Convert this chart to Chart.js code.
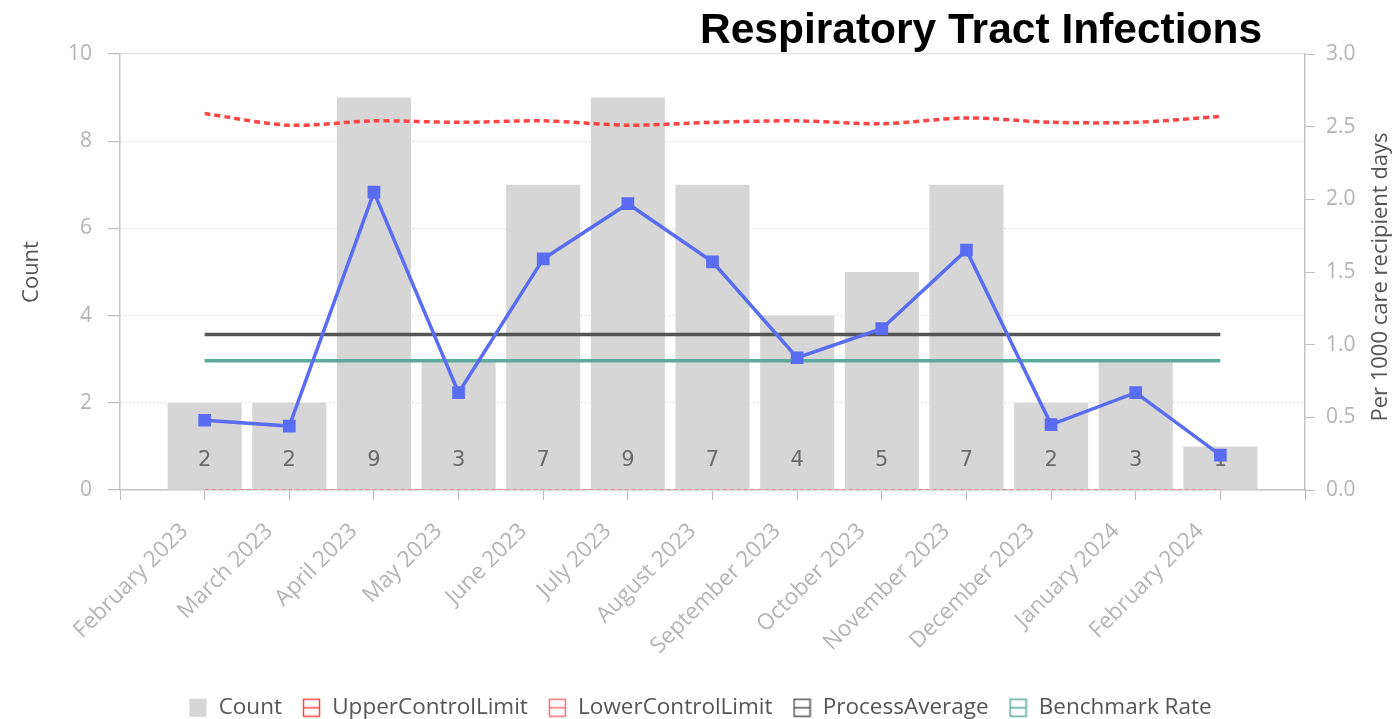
<!DOCTYPE html>
<html>
<head>
<meta charset="utf-8">
<script src="https://cdn.jsdelivr.net/npm/chart.js@4.4.0/dist/chart.umd.min.js"></script>
<style>
  body { margin: 0; background: #fff; overflow: hidden; }
  #wrap { position: relative; width: 1400px; height: 729px; }
  #title { position: absolute; left: 700px; top: 6px; font: bold 42.5px "Liberation Sans", Arial, sans-serif; color: #000; z-index: 2; line-height: 1.1; }
</style>
</head>
<body>
<div id="wrap">
  <div id="title">Respiratory Tract Infections</div>
  <canvas id="chart"></canvas>
</div>
<script>
const months = ['February 2023', 'March 2023', 'April 2023', 'May 2023', 'June 2023', 'July 2023',
  'August 2023', 'September 2023', 'October 2023', 'November 2023', 'December 2023', 'January 2024', 'February 2024'];
const counts = [2, 2, 9, 3, 7, 9, 7, 4, 5, 7, 2, 3, 1];
const rates = [0.48, 0.44, 2.05, 0.67, 1.59, 1.97, 1.57, 0.91, 1.11, 1.65, 0.45, 0.67, 0.24];
const upperLimit = [2.59, 2.51, 2.54, 2.53, 2.54, 2.51, 2.53, 2.54, 2.52, 2.56, 2.53, 2.53, 2.57];
const lowerLimit = [0, 0, 0, 0, 0, 0, 0, 0, 0, 0, 0, 0, 0];
const processAverage = [1.07, 1.07, 1.07, 1.07, 1.07, 1.07, 1.07, 1.07, 1.07, 1.07, 1.07, 1.07, 1.07];
const benchmarkRate = [0.89, 0.89, 0.89, 0.89, 0.89, 0.89, 0.89, 0.89, 0.89, 0.89, 0.89, 0.89, 0.89];
const countTicks = [0, 2, 4, 6, 8, 10];
const rateTicks = [0, 0.5, 1, 1.5, 2, 2.5, 3];
const rightTitleText = 'Per 1000 care recipient days';

// empty slot on each side, like the original axis
const pad = arr => [null, ...arr, null];
const labels = ['', ...months, ''];

const fontFamily = '"Open Sans", sans-serif';
const tickFont = { family: fontFamily, size: 21 };
const tickColor = '#b4b4b4';

// legend boxes: outlined square with a line through the middle
const makeBox = (color, filled) => {
    const c = document.createElement('canvas');
    c.width = 19;
    c.height = 20;
    const g = c.getContext('2d');
    if (filled) {
        g.fillStyle = color;
        g.fillRect(1, 1, 17, 18);
    } else {
        g.strokeStyle = color;
        g.lineWidth = 1.5;
        g.strokeRect(1.5, 1.5, 16, 17);
        g.beginPath();
        g.moveTo(1.5, 10);
        g.lineTo(17.5, 10);
        g.stroke();
    }
    return c;
};

const valueLabels = {
    id: 'valueLabels',
    afterDatasetDraw(chart, args) {
        if (args.index !== 0) return;
        const ctx = chart.ctx;
        ctx.save();
        ctx.font = '21px "DejaVu Sans", sans-serif';
        ctx.fillStyle = '#6a6a6a';
        ctx.textAlign = 'center';
        ctx.textBaseline = 'middle';
        args.meta.data.forEach((bar, i) => {
            const v = chart.data.datasets[0].data[i];
            if (v === null) return;
            ctx.fillText(v, bar.x, bar.base - 29);
        });
        ctx.restore();
    }
};

const rightTitle = {
    id: 'rightTitle',
    afterDraw(chart) {
        const s = chart.scales.y1;
        const ctx = chart.ctx;
        ctx.save();
        ctx.translate(s.right - 19, (s.top + s.bottom) / 2 + 5);
        ctx.rotate(-Math.PI / 2);
        ctx.textAlign = 'center';
        ctx.textBaseline = 'middle';
        ctx.font = '22px ' + fontFamily;
        ctx.fillStyle = '#555';
        ctx.fillText(rightTitleText, 0, 0);
        ctx.restore();
    }
};

const ctx = document.querySelector('#chart');
new Chart(ctx, {
    type: 'bar',
    data: {
        labels: labels,
        datasets: [{
            type: 'bar',
            label: 'Count',
            data: pad(counts),
            backgroundColor: '#d6d6d6',
            yAxisID: 'y',
            order: 2,
            barPercentage: 0.875,
            categoryPercentage: 1
        }, {
            type: 'line',
            label: 'UpperControlLimit',
            data: pad(upperLimit),
            borderColor: '#ff4545',
            backgroundColor: '#fff',
            borderWidth: 3.5,
            borderDash: [6, 4],
            pointRadius: 0,
            tension: 0.3,
            yAxisID: 'y1',
            order: 1
        }, {
            type: 'line',
            label: 'LowerControlLimit',
            data: pad(lowerLimit),
            borderColor: '#f07070',
            backgroundColor: '#fff',
            borderWidth: 1.5,
            borderDash: [4, 3],
            pointRadius: 0,
            yAxisID: 'y1',
            order: 1
        }, {
            type: 'line',
            label: 'ProcessAverage',
            data: pad(processAverage),
            borderColor: '#555555',
            backgroundColor: '#fff',
            borderWidth: 3.5,
            pointRadius: 0,
            yAxisID: 'y1',
            order: 1
        }, {
            type: 'line',
            label: 'Benchmark Rate',
            data: pad(benchmarkRate),
            borderColor: '#5aab9c',
            backgroundColor: '#fff',
            borderWidth: 3.5,
            pointRadius: 0,
            yAxisID: 'y1',
            order: 1
        }, {
            type: 'line',
            label: 'Rate',
            data: pad(rates),
            borderColor: '#5a6df2',
            backgroundColor: '#5a6df2',
            borderWidth: 3.5,
            pointStyle: 'rect',
            pointRadius: 6.5,
            tension: 0,
            yAxisID: 'y1',
            order: 0
        }]
    },
    options: {
        responsive: true,
        maintainAspectRatio: false,
        animation: false,
        layout: { padding: { top: 54, left: 0, right: 0, bottom: 0 } },
        plugins: {
            tooltip: { enabled: false },
            title: { display: false },
            legend: {
                position: 'bottom',
                labels: {
                    usePointStyle: true,
                    boxWidth: 19,
                    padding: 20,
                    color: '#555',
                    font: { family: fontFamily, size: 22.5 },
                    filter: item => item.text !== 'Rate',
                    sort: (a, b) => a.datasetIndex - b.datasetIndex,
                    generateLabels: chart => {
                        const items = Chart.defaults.plugins.legend.labels.generateLabels(chart);
                        return items.map(item => {
                            const ds = chart.data.datasets[item.datasetIndex];
                            item.pointStyle = ds.type === 'bar'
                                ? makeBox(ds.backgroundColor, true)
                                : makeBox(ds.borderColor, false);
                            return item;
                        });
                    }
                }
            }
        },
        scales: {
            x: {
                offset: false,
                afterFit: s => { s.height = 186.5; },
                grid: { offset: false, drawOnChartArea: false, drawTicks: true, tickLength: 10, tickColor: '#bdbdbd' },
                border: { color: '#c4c4c4', width: 1.5 },
                ticks: {
                    autoSkip: false, maxRotation: 45, minRotation: 45,
                    color: tickColor, font: { family: fontFamily, size: 22.5 }, padding: 18, labelOffset: -20
                }
            },
            y: {
                position: 'left',
                min: 0,
                max: 10,
                afterFit: s => { s.width = 120; },
                afterBuildTicks: s => { s.ticks = countTicks.map(v => ({ value: v })); },
                title: { display: true, text: 'Count', color: '#555', font: { family: fontFamily, size: 22 }, padding: { top: 19 } },
                grid: { color: '#e2e2e2', tickColor: '#bdbdbd', tickLength: 12, lineWidth: 1.2 },
                border: { color: '#c4c4c4', width: 1.5, dash: c => (c.tick && c.tick.value === 10) ? [] : [2, 2] },
                ticks: { color: tickColor, font: tickFont, padding: 16 }
            },
            y1: {
                position: 'right',
                min: 0,
                max: 3,
                afterFit: s => { s.width = 95; },
                afterBuildTicks: s => { s.ticks = rateTicks.map(v => ({ value: v })); },
                grid: { drawOnChartArea: false, tickColor: '#bdbdbd', tickLength: 10 },
                border: { color: '#c4c4c4', width: 1.5 },
                ticks: { color: tickColor, font: tickFont, padding: 11, callback: v => v.toFixed(1) }
            }
        }
    },
    plugins: [valueLabels, rightTitle]
});
</script>
</body>
</html>
